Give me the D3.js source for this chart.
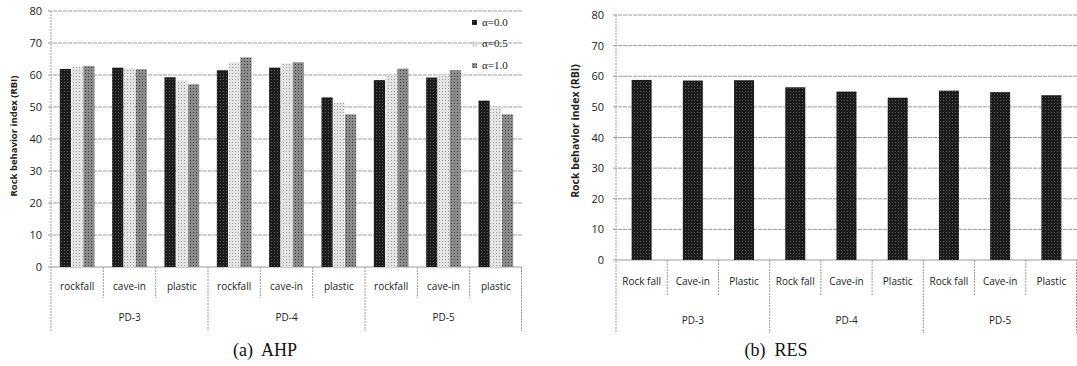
<!DOCTYPE html>
<html>
<head>
<meta charset="utf-8">
<script src="https://cdn.jsdelivr.net/npm/d3@7"></script>
<style>
  html, body { margin: 0; padding: 0; background: #fff; }
  svg { display: block; }
</style>
</head>
<body>
<svg id="chart" width="1077" height="366"></svg>
<script>
// ---------------------------------------------------------------------------
// Data
// ---------------------------------------------------------------------------
const groups      = ['PD-3', 'PD-4', 'PD-5'];
const ahpCats     = ['rockfall', 'cave-in', 'plastic'];
const resCats     = ['Rock fall', 'Cave-in', 'Plastic'];
const alphaLabels = ['α=0.0', 'α=0.5', 'α=1.0'];

// AHP, one value per (group, category), order PD-3..PD-5 x 3 categories
const ahpAlpha00 = [61.9, 62.3, 59.3, 61.5, 62.3, 53.0, 58.4, 59.2, 52.0];
const ahpAlpha05 = [62.6, 62.1, 58.4, 64.0, 63.6, 51.4, 60.0, 60.0, 50.1];
const ahpAlpha10 = [62.8, 61.8, 57.1, 65.5, 64.0, 47.7, 62.0, 61.5, 47.7];

// RES
const resValues = [58.8, 58.6, 58.7, 56.4, 55.0, 53.0, 55.3, 54.8, 53.8];

const yTicks = [0, 10, 20, 30, 40, 50, 60, 70, 80];
const yLabel = 'Rock behavior index (RBI)';

// ---------------------------------------------------------------------------
// Layout / style
// ---------------------------------------------------------------------------
const PANELS = [
  {
    cats: ahpCats, series: [ahpAlpha00, ahpAlpha05, ahpAlpha10],
    x0: 51, x1: 522, yTop: 11, yZero: 267,
    tickRight: 42, labelX: 14, labelY: 136, labelSize: 9.5,
    catY: 290, catLineY: 298, grpY: 321, grpLineY: 331,
    caption: '(a)  AHP', capX: 265, capY: 356, legend: true
  },
  {
    cats: resCats, series: [resValues],
    x0: 616, x1: 1077, yTop: 15, yZero: 260,
    tickRight: 604, labelX: 576, labelY: 131, labelSize: 10.5,
    catY: 285, catLineY: 295, grpY: 324, grpLineY: 333,
    caption: '(b)  RES', capX: 776, capY: 356, legend: false
  }
];

const FILLS = [
  { id: 'ht-dark',  base: '#1c1c1c', dot: '#5a5a5a' },
  { id: 'ht-light', base: '#e4e4e4', dot: '#9c9c9c' },
  { id: 'ht-mid',   base: '#8c8c8c', dot: '#3e3e3e' }
];

const GRID = '#9a9a9a';
const SANS = "'Open Sans', 'Liberation Sans', sans-serif";
const SERIF = "'Liberation Serif', 'DejaVu Serif', serif";

const svg = d3.select('#chart');

// halftone-ish fills
const defs = svg.append('defs');
FILLS.forEach(f => {
  const p = defs.append('pattern')
    .attr('id', f.id)
    .attr('width', 3).attr('height', 3)
    .attr('patternUnits', 'userSpaceOnUse');
  p.append('rect').attr('width', 3).attr('height', 3).attr('fill', f.base);
  p.append('rect').attr('x', 1).attr('y', 1).attr('width', 1).attr('height', 1).attr('fill', f.dot);
});

PANELS.forEach(drawPanel);

function drawPanel(cfg) {
  const g = svg.append('g');
  const keys = d3.range(groups.length * cfg.cats.length);

  const x = d3.scaleBand().domain(keys).range([cfg.x0, cfg.x1]).padding(0);
  const y = d3.scaleLinear().domain([0, 80]).range([cfg.yZero, cfg.yTop]);

  // gridlines
  g.append('g')
    .selectAll('line')
    .data(yTicks)
    .join('line')
    .attr('x1', cfg.x0 - 3).attr('x2', cfg.x1)
    .attr('y1', d => y(d)).attr('y2', d => y(d))
    .attr('stroke', GRID)
    .attr('stroke-width', 1)
    .attr('stroke-dasharray', d => d === 0 ? null : '4,1');

  // y axis (labels only, line drawn separately)
  const yAxis = g.append('g')
    .attr('transform', `translate(${cfg.tickRight + 4},0)`)
    .call(d3.axisLeft(y).tickValues(yTicks).tickSize(0).tickPadding(4));
  yAxis.select('.domain').remove();
  yAxis.selectAll('text')
    .attr('font-family', SANS)
    .attr('font-size', 11)
    .attr('fill', '#222');

  // bars
  const sub = d3.scaleBand()
    .domain(d3.range(cfg.series.length))
    .range([0, x.bandwidth()]);
  if (cfg.series.length > 1) sub.paddingInner(0.05).paddingOuter(0.75);
  else sub.paddingInner(0).paddingOuter(0.78);

  cfg.series.forEach((vals, si) => {
    g.append('g')
      .selectAll('rect')
      .data(vals)
      .join('rect')
      .attr('x', (d, i) => x(i) + sub(si))
      .attr('y', d => y(d))
      .attr('width', sub.bandwidth())
      .attr('height', d => y(0) - y(d))
      .attr('fill', `url(#${FILLS[si].id})`);
  });

  // left axis line + table lines
  const lines = g.append('g')
    .attr('stroke', GRID)
    .attr('stroke-width', 1)
    .attr('stroke-dasharray', '2,1');

  lines.append('line')
    .attr('x1', cfg.x0).attr('x2', cfg.x0)
    .attr('y1', cfg.yTop).attr('y2', cfg.grpLineY);

  lines.selectAll('line.cat')
    .data(keys.slice(1).concat([keys.length]))
    .join('line')
    .attr('class', 'cat')
    .attr('x1', d => d === keys.length ? cfg.x1 - 0.5 : x(d))
    .attr('x2', d => d === keys.length ? cfg.x1 - 0.5 : x(d))
    .attr('y1', cfg.yZero)
    .attr('y2', d => d % cfg.cats.length === 0 ? cfg.grpLineY : cfg.catLineY);

  // category labels
  g.append('g')
    .selectAll('text')
    .data(keys)
    .join('text')
    .attr('x', d => x(d) + x.bandwidth() / 2)
    .attr('y', cfg.catY)
    .attr('text-anchor', 'middle')
    .attr('font-family', SANS)
    .attr('font-size', 10)
    .attr('fill', '#222')
    .text(d => cfg.cats[d % cfg.cats.length]);

  // group labels
  g.append('g')
    .selectAll('text')
    .data(groups)
    .join('text')
    .attr('x', (d, i) => (x(i * cfg.cats.length) + x((i + 1) * cfg.cats.length - 1) + x.bandwidth()) / 2)
    .attr('y', cfg.grpY)
    .attr('text-anchor', 'middle')
    .attr('font-family', SANS)
    .attr('font-size', 10)
    .attr('fill', '#222')
    .text(d => d);

  // y label
  g.append('text')
    .attr('transform', `translate(${cfg.labelX},${cfg.labelY}) rotate(-90)`)
    .attr('text-anchor', 'middle')
    .attr('dominant-baseline', 'middle')
    .attr('font-family', SANS)
    .attr('font-size', cfg.labelSize)
    .attr('font-weight', 'bold')
    .attr('fill', '#222')
    .text(yLabel);

  // caption
  g.append('text')
    .attr('x', cfg.capX).attr('y', cfg.capY)
    .attr('text-anchor', 'middle')
    .attr('font-family', SERIF)
    .attr('font-size', 18)
    .attr('fill', '#111')
    .attr('xml:space', 'preserve')
    .style('white-space', 'pre')
    .text(cfg.caption);

  // legend
  if (cfg.legend) {
    const leg = g.append('g').attr('transform', 'translate(472,23)');
    const item = leg.selectAll('g')
      .data(alphaLabels)
      .join('g')
      .attr('transform', (d, i) => `translate(0,${i * 21.5})`);
    item.append('rect')
      .attr('x', 0).attr('y', -3)
      .attr('width', 5).attr('height', 5)
      .attr('fill', (d, i) => `url(#${FILLS[i].id})`);
    item.append('text')
      .attr('x', 10).attr('y', 0)
      .attr('dominant-baseline', 'middle')
      .attr('font-family', SERIF)
      .attr('font-size', 11)
      .attr('fill', '#222')
      .text(d => d);
  }
}
</script>
</body>
</html>
